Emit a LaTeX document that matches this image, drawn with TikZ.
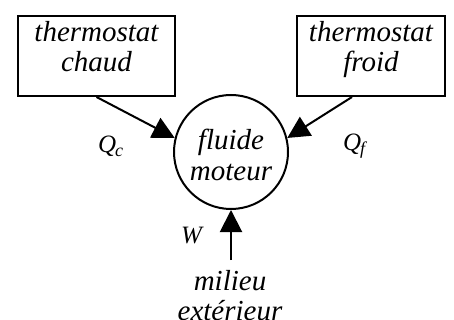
\documentclass[tikz,border=0pt]{standalone}
\usepackage{fontspec}
\setmainfont{Liberation Serif}
\usetikzlibrary{arrows.meta}
\newcommand{\lbl}{\fontsize{29}{30}\selectfont\itshape}
\newcommand{\mlbl}{\fontsize{25}{25}\selectfont\itshape}
\newcommand{\subl}[1]{\raisebox{-4pt}{\fontsize{18}{18}\selectfont\itshape #1}}
\begin{document}
\begin{tikzpicture}[x=1pt,y=-1pt,line width=2pt,
  boxn/.style={draw,rectangle,inner sep=0pt,minimum height=80pt},
  circn/.style={draw,circle,inner sep=0pt,minimum size=114pt},
  txt/.style={font=\lbl,align=center,inner sep=0pt,anchor=base},
  mtxt/.style={font=\mlbl,inner sep=0pt,anchor=base west},
  flow/.style={-{Triangle[length=22pt,width=22pt]}}]
\useasboundingbox (0,0) rectangle (454,320);
\node[boxn,minimum width=157pt] (lb) at (96.5,56) {};
\node[boxn,minimum width=148pt] (rb) at (371,56) {};
\node[circn] (c) at (231,152) {};
\node[txt] (lt) at (96.5,72) {thermostat\\chaud};
\node[txt] (rt) at (371,72) {thermostat\\froid};
\node[txt] (ct) at (231,180) {fluide\\moteur};
\node[txt] (mt) at (230,320) {milieu\\extérieur};
\node[mtxt] (qc) at (97,153) {Q\kern-1pt\subl{c}};
\node[mtxt] (qf) at (342,151) {Q\kern-1pt\subl{f}};
\node[mtxt] (w) at (180,243) {W};
\coordinate (ms) at (231,260);
\draw[flow] (lb.south) -- (c.166);
\draw[flow] ([xshift=-19pt]rb.south) -- (c.14);
\draw[flow] (ms) -- (c.south);
\end{tikzpicture}
\end{document}
